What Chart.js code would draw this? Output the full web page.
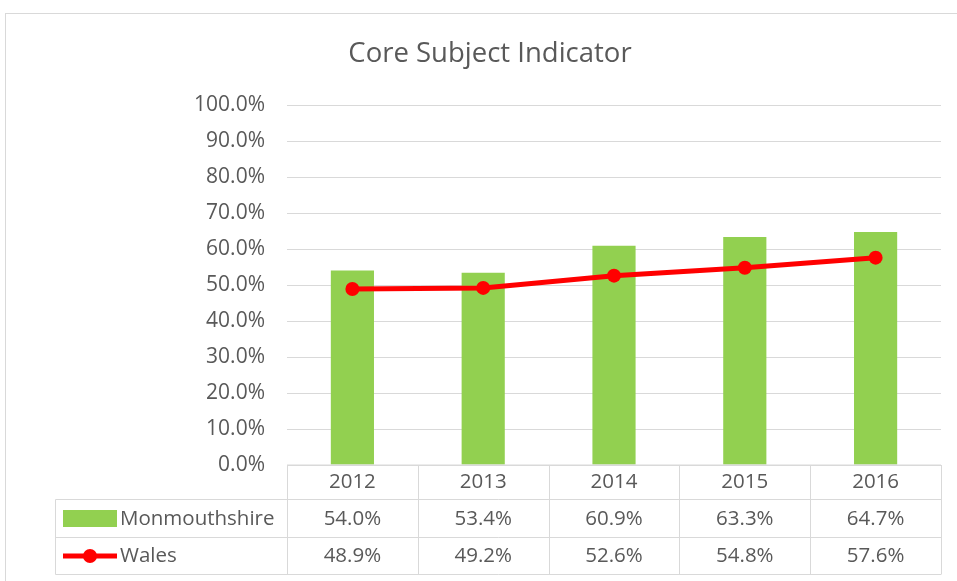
<!DOCTYPE html>
<html>
<head>
<meta charset="utf-8">
<style>
  body { margin: 0; background: #fff; }
</style>
</head>
<body>
<canvas id="coreChart" width="957" height="581"></canvas>

<script src="https://cdn.jsdelivr.net/npm/chart.js"></script>
<script>
const years = ["2012", "2013", "2014", "2015", "2016"];
const monmouthshire = [54.0, 53.4, 60.9, 63.3, 64.7];
const wales = [48.9, 49.2, 52.6, 54.8, 57.6];
const chartTitle = "Core Subject Indicator";

const FONT = "'Open Sans', sans-serif";
const GREEN = "#92d050";
const RED = "#ff0000";
const GRID = "#d9d9d9";
const TEXT = "#595959";

// title, outer border and the data table under the axis
const tablePlugin = {
    id: "dataTable",
    afterDraw(chart) {
        const ctx = chart.ctx;
        const area = chart.chartArea;
        const x = chart.scales.x;
        const colW = (area.right - area.left) / years.length;
        const top = area.bottom;
        const row1 = 499.5, row2 = 537.5, bottom = 574.5;
        const left = 55.5;

        ctx.save();
        ctx.strokeStyle = GRID;
        ctx.lineWidth = 1;
        ctx.strokeRect(5.5, 13.5, 1200, 1200);

        ctx.beginPath();
        ctx.moveTo(area.left, top); ctx.lineTo(area.right, top);
        [row1, row2, bottom].forEach(y => { ctx.moveTo(left, y); ctx.lineTo(area.right, y); });
        ctx.moveTo(left, row1); ctx.lineTo(left, bottom);
        for (let i = 0; i <= years.length; i++) {
            const cx = Math.round(area.left + i * colW) + 0.5;
            ctx.moveTo(cx, top); ctx.lineTo(cx, bottom);
        }
        ctx.stroke();

        ctx.fillStyle = TEXT;
        ctx.font = "27.5px " + FONT;
        ctx.textAlign = "center";
        ctx.textBaseline = "middle";
        ctx.fillText(chartTitle, 490, 54);

        ctx.font = "20.5px " + FONT;
        years.forEach((yr, i) => {
            const cx = x.getPixelForValue(i);
            ctx.fillText(yr, cx, 482);
            ctx.fillText(monmouthshire[i].toFixed(1) + "%", cx, 519);
            ctx.fillText(wales[i].toFixed(1) + "%", cx, 556);
        });

        // legend keys
        ctx.fillStyle = GREEN;
        ctx.fillRect(63, 510, 54, 17);
        ctx.strokeStyle = RED;
        ctx.lineWidth = 5;
        ctx.beginPath();
        ctx.moveTo(63, 556); ctx.lineTo(117, 556);
        ctx.stroke();
        ctx.fillStyle = RED;
        ctx.beginPath();
        ctx.arc(90, 556, 7, 0, Math.PI * 2);
        ctx.fill();

        ctx.fillStyle = TEXT;
        ctx.textAlign = "left";
        ctx.fillText("Monmouthshire", 120, 519);
        ctx.fillText("Wales", 120, 556);
        ctx.restore();
    }
};

new Chart(document.getElementById("coreChart"), {
    type: "bar",
    data: {
        labels: years,
        datasets: [
            {
                type: "line",
                label: "Wales",
                data: wales,
                borderColor: RED,
                backgroundColor: RED,
                borderWidth: 5,
                pointRadius: 7,
                pointBackgroundColor: RED,
                pointBorderWidth: 0,
                order: 1
            },
            {
                label: "Monmouthshire",
                data: monmouthshire,
                backgroundColor: GREEN,
                barPercentage: 0.33,
                categoryPercentage: 1,
                order: 2
            }
        ]
    },
    options: {
        responsive: false,
        animation: false,
        layout: { padding: { left: 0, right: 16, top: 105, bottom: 116 } },
        plugins: {
            legend: { display: false },
            tooltip: { enabled: false }
        },
        scales: {
            x: { display: false },
            y: {
                min: 0,
                max: 100,
                afterFit(scale) { scale.width = 287; },
                ticks: {
                    stepSize: 10,
                    padding: 22,
                    color: TEXT,
                    font: { family: FONT, size: 21 },
                    callback: v => v.toFixed(1) + "%"
                },
                grid: { color: GRID, drawTicks: false },
                border: { display: false }
            }
        }
    },
    plugins: [tablePlugin]
});
</script>
</body>
</html>
